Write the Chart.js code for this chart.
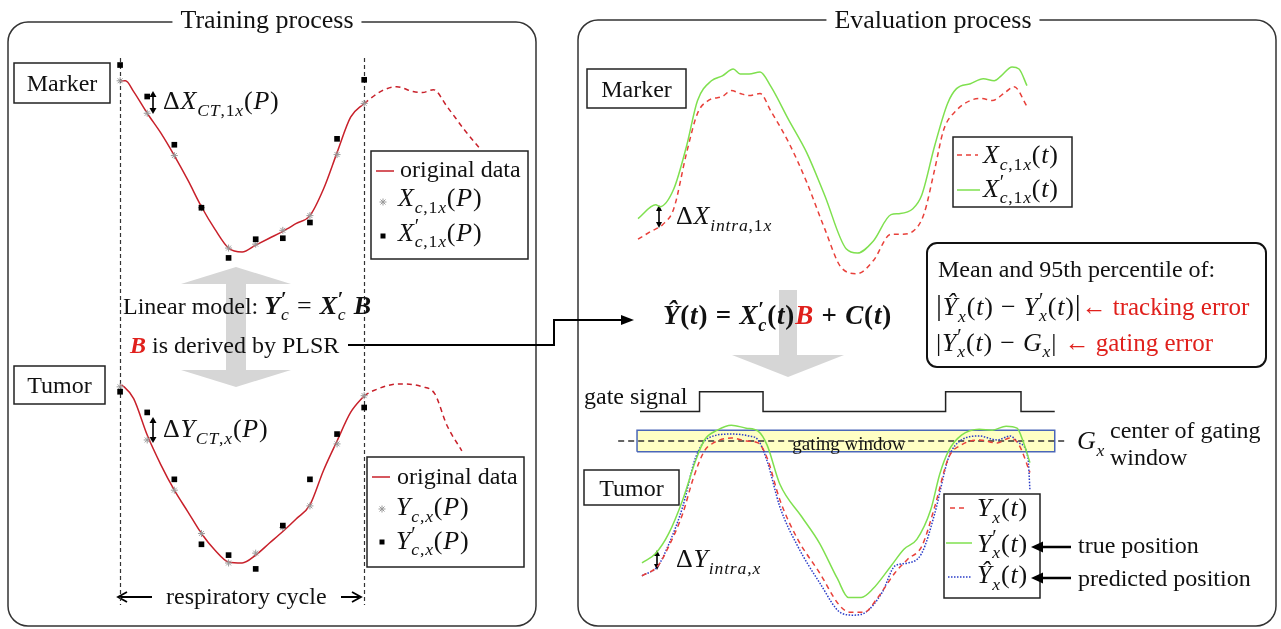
<!DOCTYPE html>
<html><head><meta charset="utf-8">
<script src="https://cdn.jsdelivr.net/npm/chart.js@4/dist/chart.umd.min.js"></script>
<style>
html,body{margin:0;padding:0;background:#fff;}
#wrap{position:relative;width:1281px;height:629px;overflow:hidden;background:#fff;}
#deco,#c{position:absolute;left:0;top:0;}
.t{position:absolute;white-space:nowrap;font-family:"Liberation Serif","Times New Roman",serif;font-size:24px;line-height:1;color:#111;transform:translateY(-50%);}
.c{transform:translate(-50%,-50%);}
.ttl{font-size:26px;background:#fff;padding:0 8px;}
.mt{font-size:26px;letter-spacing:0.8px;}
.fm{font-size:27px;letter-spacing:0.8px;}
.sb{font-size:0.68em;vertical-align:-0.38em;}
.ps{display:inline-flex;flex-direction:column;font-size:0.68em;line-height:0.85;vertical-align:0.44em;}
.ps>span{display:block;}
.ps>span:first-child{font-size:1.15em;line-height:0.75;}
.red{color:#E0201C;}
.bar{font-size:1.15em;}
.gw{font-size:19px;}
</style></head>
<body>
<div id="wrap">
<svg id="deco" width="1281" height="629" xmlns="http://www.w3.org/2000/svg">
  <rect x="8" y="22" width="528" height="604" rx="20" fill="none" stroke="#333" stroke-width="1.5"/>
  <rect x="578" y="20" width="698" height="606" rx="20" fill="none" stroke="#333" stroke-width="1.5"/>
  <g fill="#D6D6D6">
    <polygon points="181,284 291,284 236,267"/>
    <rect x="226" y="283" width="20" height="88"/>
    <polygon points="181,370 291,370 236,387"/>
    <rect x="779" y="290" width="18" height="66"/>
    <polygon points="732,355 844,355 788,377"/>
  </g>
  <g fill="none" stroke="#222" stroke-width="1.5">
    <rect x="14" y="63" width="96" height="40"/>
    <rect x="14" y="366" width="91" height="38"/>
    <rect x="587" y="69" width="99" height="39"/>
    <rect x="584" y="470" width="95" height="35"/>
    <rect x="371" y="151" width="157" height="108"/>
    <rect x="367" y="457" width="157" height="110"/>
    <rect x="953" y="137" width="119" height="70"/>
    <rect x="944" y="494" width="96" height="104"/>
  </g>
  <rect x="927" y="243" width="339" height="124" rx="10" fill="none" stroke="#111" stroke-width="2"/>
  <!-- legend samples -->
  <line x1="376" y1="171" x2="394" y2="171" stroke="#C8202A" stroke-width="1.5"/>
  <path d="M379.5,202H386.5M383,198.5V205.5M380.5,199.5L385.5,204.5M380.5,204.5L385.5,199.5" stroke="#999" stroke-width="1"/>
  <rect x="380.5" y="233.5" width="5" height="5" fill="#000"/>
  <line x1="372" y1="477" x2="390" y2="477" stroke="#C8202A" stroke-width="1.5"/>
  <path d="M378.5,509H385.5M382,505.5V512.5M379.5,506.5L384.5,511.5M379.5,511.5L384.5,506.5" stroke="#999" stroke-width="1"/>
  <rect x="379.5" y="539.5" width="5" height="5" fill="#000"/>
  <line x1="957" y1="155" x2="978" y2="155" stroke="#E8403A" stroke-width="1.5" stroke-dasharray="5 4"/>
  <line x1="957" y1="190" x2="980" y2="190" stroke="#7FE04F" stroke-width="1.5"/>
  <line x1="950" y1="508" x2="968" y2="508" stroke="#E8403A" stroke-width="1.5" stroke-dasharray="5 4"/>
  <line x1="946" y1="543" x2="972" y2="543" stroke="#7FE04F" stroke-width="1.5"/>
  <line x1="948" y1="577" x2="972" y2="577" stroke="#2A3CC8" stroke-width="1.5" stroke-dasharray="1.5 1.5"/>
  <!-- small double arrows -->
  <g stroke="#000" stroke-width="1.6">
    <path d="M153,96V109M153,422V438M659,210V223M657,555V565"/>
  </g>
  <g fill="#000">
    <polygon points="149.5,97 156.5,97 153,91"/><polygon points="149.5,108 156.5,108 153,114"/>
    <polygon points="149.5,423 156.5,423 153,417"/><polygon points="149.5,437 156.5,437 153,443"/>
    <polygon points="656,211 662,211 659,205"/><polygon points="656,222 662,222 659,228"/>
    <polygon points="654,556 660,556 657,550"/><polygon points="654,564 660,564 657,570"/>
  </g>
  <!-- respiratory cycle arrows -->
  <g stroke="#000" stroke-width="1.8" fill="none">
    <path d="M120,597H152M341,597H359"/>
    <path d="M127,592L118,597L127,602M352,592L361,597L352,602"/>
  </g>
  <!-- connector PLSR -> evaluation -->
  <polyline points="348,345 554,345 554,320 623,320" fill="none" stroke="#000" stroke-width="2"/>
  <polygon points="634,320 621,315 621,325" fill="#000"/>
  <!-- true / predicted position arrows -->
  <g stroke="#000" stroke-width="2.5"><path d="M1071,547H1040M1071,578H1040"/></g>
  <g fill="#000"><polygon points="1031,547 1043,541.5 1043,552.5"/><polygon points="1031,578 1043,572.5 1043,583.5"/></g>
</svg>
<canvas id="c" width="1281" height="629"></canvas>

<div class="t c ttl" style="left:267px;top:20px">Training process</div>
<div class="t c ttl" style="left:933px;top:20px">Evaluation process</div>

<div class="t c" style="left:62px;top:83px">Marker</div>
<div class="t c" style="left:59.5px;top:385px">Tumor</div>
<div class="t c" style="left:636.5px;top:88.5px">Marker</div>
<div class="t c" style="left:631.5px;top:487.5px">Tumor</div>

<div class="t mt" style="left:163px;top:104px">Δ<i>X</i><span class="sb"><i>CT</i>,1<i>x</i></span>(<i>P</i>)</div>
<div class="t mt" style="left:163px;top:432px">Δ<i>Y</i><span class="sb"><i>CT</i>,<i>x</i></span>(<i>P</i>)</div>
<div class="t" style="left:123px;top:307px">Linear model: <span class="mt"><b><i>Y</i></b><span class="ps"><span><b>′</b></span><span><i>c</i></span></span> = <b><i>X</i></b><span class="ps"><span><b>′</b></span><span><i>c</i></span></span> <b><i>B</i></b></span></div>
<div class="t" style="left:130px;top:345px"><b><i class="red">B</i></b> is derived by PLSR</div>

<div class="t" style="left:400px;top:169px">original data</div>
<div class="t mt" style="left:398px;top:201px"><i>X</i><span class="sb"><i>c</i>,1<i>x</i></span>(<i>P</i>)</div>
<div class="t mt" style="left:398px;top:234px"><i>X</i><span class="ps"><span>′</span><span><i>c</i>,1<i>x</i></span></span>(<i>P</i>)</div>

<div class="t" style="left:397px;top:476px">original data</div>
<div class="t mt" style="left:396px;top:510px"><i>Y</i><span class="sb"><i>c</i>,<i>x</i></span>(<i>P</i>)</div>
<div class="t mt" style="left:396px;top:542px"><i>Y</i><span class="ps"><span>′</span><span><i>c</i>,<i>x</i></span></span>(<i>P</i>)</div>

<div class="t" style="left:166px;top:596px">respiratory cycle</div>

<div class="t mt" style="left:983px;top:158px"><i>X</i><span class="sb"><i>c</i>,1<i>x</i></span>(<i>t</i>)</div>
<div class="t mt" style="left:983px;top:190px"><i>X</i><span class="ps"><span>′</span><span><i>c</i>,1<i>x</i></span></span>(<i>t</i>)</div>
<div class="t mt" style="left:676px;top:219px">Δ<i>X</i><span class="sb"><i>intra</i>,1<i>x</i></span></div>

<div class="t fm" style="left:663px;top:318px"><b><i>Ŷ</i>(<i>t</i>) = <i>X</i><span class="ps"><span>′</span><span><i>c</i></span></span>(<i>t</i>)<i class="red">B</i> + <i>C</i>(<i>t</i>)</b></div>

<div class="t" style="left:938px;top:269px">Mean and 95th percentile of:</div>
<div class="t mt" style="left:936px;top:308px"><span class="bar">|</span><i>Ŷ</i><span class="sb"><i>x</i></span>(<i>t</i>) − <i>Y</i><span class="ps"><span>′</span><span><i>x</i></span></span>(<i>t</i>)<span class="bar">|</span><span class="red" style="font-size:25px;letter-spacing:0">← tracking error</span></div>
<div class="t mt" style="left:936px;top:345px">|<i>Y</i><span class="ps"><span>′</span><span><i>x</i></span></span>(<i>t</i>) − <i>G</i><span class="sb"><i>x</i></span>| <span class="red" style="font-size:25px;letter-spacing:0">← gating error</span></div>

<div class="t" style="left:584px;top:396px">gate signal</div>
<div class="t c gw" style="left:849px;top:443px">gating window</div>
<div class="t mt" style="left:1077px;top:444px"><i>G</i><span class="sb"><i>x</i></span></div>
<div class="t" style="left:1110px;top:430px">center of gating</div>
<div class="t" style="left:1110px;top:457px">window</div>

<div class="t mt" style="left:977px;top:511px"><i>Y</i><span class="sb"><i>x</i></span>(<i>t</i>)</div>
<div class="t mt" style="left:977px;top:545px"><i>Y</i><span class="ps"><span>′</span><span><i>x</i></span></span>(<i>t</i>)</div>
<div class="t mt" style="left:977px;top:578px"><i>Ŷ</i><span class="sb"><i>x</i></span>(<i>t</i>)</div>
<div class="t" style="left:1078px;top:545px">true position</div>
<div class="t" style="left:1078px;top:578px">predicted position</div>
<div class="t mt" style="left:676px;top:562px">Δ<i>Y</i><span class="sb"><i>intra</i>,<i>x</i></span></div>
</div>

<script>
const W = 1281, H = 629;

// ---------- Training process: one respiratory cycle, 10 phase bins ----------
const cycleBounds = [0, 9];
const phaseBins = [0, 1, 2, 3, 4, 5, 6, 7, 8, 9];

const trainMarkerT = [0, 0.2, 0.5, 1, 1.5, 2, 2.5, 3, 3.5, 4, 4.5, 5, 5.5, 6, 6.5, 7, 7.5, 8, 8.5, 9];
const trainMarkerV = [18.3, 18.3, 17.2, 15.0, 13.0, 10.7, 8.2, 5.5, 3.2, 1.3, 0.9, 1.6, 2.3, 3.0, 3.8, 4.6, 7.3, 11.0, 14.6, 16.0];
const trainMarkerNextT = [9, 9.6, 10.2, 10.8, 11.15, 11.55, 12.05, 12.7, 13.3];
const trainMarkerNextV = [16.0, 17.2, 17.7, 17.2, 17.1, 17.4, 15.7, 13.3, 11.3];
const markerXc  = [18.3, 15.0, 10.7, 5.4, 1.3, 1.7, 3.1, 4.6, 10.8, 16.0];
const markerXcP = [19.9, 16.7, 11.8, 5.4, 0.3, 2.2, 2.3, 3.9, 12.4, 18.4];

const trainTumorT = [0, 0.15, 0.5, 1, 1.5, 2, 2.5, 3, 3.5, 4, 4.5, 5, 5.5, 6, 6.5, 7, 7.5, 8, 8.5, 9];
const trainTumorV = [19.4, 19.2, 18.0, 14.3, 11.3, 8.7, 6.5, 4.3, 2.6, 1.4, 1.3, 2.1, 3.3, 4.5, 5.8, 7.2, 10.7, 13.7, 16.6, 18.3];
const trainTumorNextT = [9, 9.33, 10.3, 11.15, 11.6, 12.05, 12.6];
const trainTumorNextV = [18.3, 18.8, 19.5, 19.2, 18.5, 15.3, 12.7];
const tumorYc  = [19.2, 13.8, 8.7, 4.3, 1.3, 2.3, 4.9, 7.1, 13.4, 18.3];
const tumorYcP = [18.7, 16.6, 9.8, 3.2, 2.1, 0.7, 5.1, 9.8, 14.4, 17.1];

// ---------- Evaluation process: continuous time ----------
const evalMarkerXpT = [0, 1.8, 2.2, 3.6, 4.9, 6.0, 7.4, 8.5, 9.6, 10.3, 11.2, 12.3, 13.4, 15.2, 17.0, 18.8, 21.0, 22.1, 23.7, 25.5, 26.3, 27.7, 28.6, 29.9, 31.2, 32.1, 33.5, 34.8, 35.9, 36.6, 37.7, 38.4, 39.2];
const evalMarkerXpV = [6.3, 7.7, 7.5, 9.3, 13.7, 18.3, 20.3, 20.8, 21.5, 21.0, 21.0, 21.2, 19.7, 16.3, 13.0, 8.7, 3.2, 2.8, 4.0, 6.7, 6.8, 7.3, 8.7, 13.7, 18.0, 19.5, 20.0, 20.5, 20.3, 20.8, 21.7, 21.5, 19.8];
const evalMarkerXT = [0, 1.3, 2.5, 3.6, 4.9, 6.0, 7.1, 8.5, 9.4, 10.3, 11.2, 12.3, 13.4, 15.2, 17.0, 18.8, 20.5, 22.1, 23.7, 25.5, 26.6, 27.7, 28.8, 29.9, 30.8, 32.1, 33.5, 34.6, 35.7, 37.1, 37.9, 39.2];
const evalMarkerXV = [4.2, 5.0, 5.7, 7.3, 13.0, 17.0, 18.3, 18.7, 19.3, 19.0, 18.8, 19.0, 17.2, 14.0, 10.0, 5.3, 1.3, 0.7, 2.0, 4.7, 4.7, 5.0, 6.7, 11.3, 15.3, 17.3, 18.3, 18.5, 18.3, 19.2, 19.7, 17.7];

const evalTumorYpT = [0.4, 1.8, 3.1, 4.5, 5.8, 6.7, 8.0, 9.4, 10.9, 12.1, 13.0, 14.3, 16.5, 18.3, 20.1, 21.2, 22.5, 23.7, 25.5, 26.8, 28.1, 29.5, 30.4, 31.3, 32.6, 34.4, 35.7, 37.1, 38.2, 38.8, 39.5];
const evalTumorYpV = [5.8, 6.8, 8.8, 12.2, 16.2, 18.3, 19.3, 19.8, 19.5, 19.2, 17.8, 13.8, 10.5, 7.8, 4.2, 2.3, 2.3, 3.2, 5.5, 7.2, 8.2, 11.2, 14.8, 17.2, 18.8, 19.4, 19.3, 19.7, 19.5, 18.2, 16.0];
const evalTumorYT = [0.4, 2.0, 3.1, 4.5, 5.6, 6.7, 7.6, 9.4, 10.9, 12.1, 13.0, 14.3, 16.1, 18.3, 20.3, 21.4, 22.8, 24.1, 25.9, 27.2, 28.6, 29.9, 31.3, 32.6, 34.4, 36.2, 37.5, 38.4, 39.5];
const evalTumorYV = [4.5, 5.5, 7.5, 10.8, 14.5, 17.2, 18.0, 18.5, 18.2, 18.0, 16.5, 12.2, 8.2, 4.8, 1.5, 0.8, 0.8, 2.2, 4.8, 6.2, 7.5, 11.5, 16.5, 17.8, 18.3, 18.0, 18.5, 17.8, 15.0];
const evalTumorPredT = [0.4, 2.0, 3.1, 4.5, 5.8, 7.1, 9.4, 11.2, 12.1, 13.0, 14.3, 16.1, 18.3, 20.5, 21.7, 22.8, 24.6, 25.9, 27.2, 28.6, 29.9, 31.3, 32.6, 34.4, 36.2, 37.5, 38.4, 39.3, 39.5];
const evalTumorPredV = [4.5, 5.5, 7.7, 11.5, 16.5, 18.5, 18.9, 18.7, 18.3, 16.2, 11.5, 7.5, 3.8, 0.7, 0.5, 0.7, 2.8, 5.5, 5.8, 6.8, 10.8, 16.5, 18.3, 18.7, 18.3, 18.7, 18.0, 16.5, 13.2];

const gateT = [0.2, 6.2, 12.6, 31.0, 38.6, 42.0];
const gateOn = [0, 1, 0, 1, 0, 0];
const gateWinT = [-0.1, 42.0];
const gateWinCenter = 18.2;
const gateWinHalf = 1.1;
const gxLineT = [-2.0, 43.1];

// ---------- helpers ----------
const zip = (xs, ys) => xs.map((x, i) => ({ x, y: ys[i] }));
function xr(v0, p0, v1, p1) { const s = (p1 - p0) / (v1 - v0); const min = v0 - p0 / s; return { min, max: min + W / s }; }
function yr(v0, p0, v1, p1) { const s = (p0 - p1) / (v1 - v0); const min = v0 - (H - p0) / s; return { min, max: min + H / s }; }
const ax = (axis, r) => Object.assign({ type: 'linear', axis, display: false, bounds: 'data', grid: { display: false }, ticks: { display: false } }, r);

const RED_L = '#C8202A', RED_R = '#E8403A', GREEN = '#7FE04F', BLUE = '#2A3CC8';

function curve(o) {
  return Object.assign({ showLine: true, pointRadius: 0, borderWidth: 1.5, fill: false, cubicInterpolationMode: 'monotone' }, o);
}
function pts(o) {
  return Object.assign({ showLine: false, pointBorderWidth: 0 }, o);
}

const datasets = [
  curve({ xAxisID: 'xL', yAxisID: 'yLM', data: zip(trainMarkerT, trainMarkerV), borderColor: RED_L, order: 5 }),
  curve({ xAxisID: 'xL', yAxisID: 'yLM', data: zip(trainMarkerNextT, trainMarkerNextV), borderColor: RED_L, borderDash: [5, 4], order: 5 }),
  pts({ xAxisID: 'xL', yAxisID: 'yLM', data: zip(phaseBins, markerXc), pointStyle: 'star', pointRadius: 3.5, pointBorderWidth: 1, pointBorderColor: '#9a9a9a', order: 2 }),
  pts({ xAxisID: 'xL', yAxisID: 'yLM', data: zip(phaseBins, markerXcP), pointStyle: 'rect', pointRadius: 4, pointBackgroundColor: '#000', order: 1 }),
  curve({ xAxisID: 'xL', yAxisID: 'yLT', data: zip(trainTumorT, trainTumorV), borderColor: RED_L, order: 5 }),
  curve({ xAxisID: 'xL', yAxisID: 'yLT', data: zip(trainTumorNextT, trainTumorNextV), borderColor: RED_L, borderDash: [5, 4], order: 5 }),
  pts({ xAxisID: 'xL', yAxisID: 'yLT', data: zip(phaseBins, tumorYc), pointStyle: 'star', pointRadius: 3.5, pointBorderWidth: 1, pointBorderColor: '#9a9a9a', order: 2 }),
  pts({ xAxisID: 'xL', yAxisID: 'yLT', data: zip(phaseBins, tumorYcP), pointStyle: 'rect', pointRadius: 4, pointBackgroundColor: '#000', order: 1 }),
  curve({ xAxisID: 'xR', yAxisID: 'yRM', data: zip(evalMarkerXT, evalMarkerXV), borderColor: RED_R, borderDash: [5, 4], order: 4 }),
  curve({ xAxisID: 'xR', yAxisID: 'yRM', data: zip(evalMarkerXpT, evalMarkerXpV), borderColor: GREEN, order: 3 }),
  { xAxisID: 'xR', yAxisID: 'yRT', showLine: true, pointRadius: 0, tension: 0, borderColor: '#4A66B8', borderWidth: 1.5,
    backgroundColor: '#FFFFC4', fill: 'shape', order: 20,
    data: [
      { x: gateWinT[0], y: gateWinCenter - gateWinHalf }, { x: gateWinT[0], y: gateWinCenter + gateWinHalf },
      { x: gateWinT[1], y: gateWinCenter + gateWinHalf }, { x: gateWinT[1], y: gateWinCenter - gateWinHalf },
      { x: gateWinT[0], y: gateWinCenter - gateWinHalf }
    ] },
  { xAxisID: 'xR', yAxisID: 'yRT', showLine: true, pointRadius: 0, tension: 0, borderColor: '#333', borderWidth: 1.5, borderDash: [6, 4], fill: false, order: 19,
    data: gxLineT.map(x => ({ x, y: gateWinCenter })) },
  { xAxisID: 'xR', yAxisID: 'yG', showLine: true, pointRadius: 0, stepped: true, borderColor: '#222', borderWidth: 1.5, fill: false, order: 18,
    data: zip(gateT, gateOn) },
  curve({ xAxisID: 'xR', yAxisID: 'yRT', data: zip(evalTumorPredT, evalTumorPredV), borderColor: BLUE, borderDash: [1.5, 1.5], order: 4 }),
  curve({ xAxisID: 'xR', yAxisID: 'yRT', data: zip(evalTumorYT, evalTumorYV), borderColor: RED_R, borderDash: [5, 4], order: 3 }),
  curve({ xAxisID: 'xR', yAxisID: 'yRT', data: zip(evalTumorYpT, evalTumorYpV), borderColor: GREEN, order: 2 })
];

const cycleLines = {
  id: 'cycleLines',
  beforeDatasetsDraw(chart) {
    const ctx = chart.ctx, sx = chart.scales.xL;
    ctx.save();
    ctx.strokeStyle = '#333'; ctx.lineWidth = 1.2; ctx.setLineDash([4, 3]);
    cycleBounds.forEach(b => {
      const px = Math.round(sx.getPixelForValue(b)) + 0.5;
      ctx.beginPath(); ctx.moveTo(px, 58); ctx.lineTo(px, 605); ctx.stroke();
    });
    ctx.restore();
  }
};

new Chart(document.getElementById('c'), {
  type: 'line',
  data: { datasets },
  options: {
    responsive: false, animation: false, devicePixelRatio: 1,
    layout: { padding: 0 },
    plugins: { legend: { display: false }, tooltip: { enabled: false }, title: { display: false } },
    events: [],
    scales: {
      xL: ax('x', xr(0, 116, 9, 362)),
      yLM: ax('y', yr(0, 260, 20, 60)),
      yLT: ax('y', yr(0, 580, 20, 380)),
      xR: ax('x', xr(0, 638, 40, 1038)),
      yRM: ax('y', yr(0, 280, 22, 60)),
      yRT: ax('y', yr(0, 625, 21, 415)),
      yG: ax('y', yr(0, 413, 1, 393))
    }
  },
  plugins: [cycleLines]
});
</script>
</body></html>
